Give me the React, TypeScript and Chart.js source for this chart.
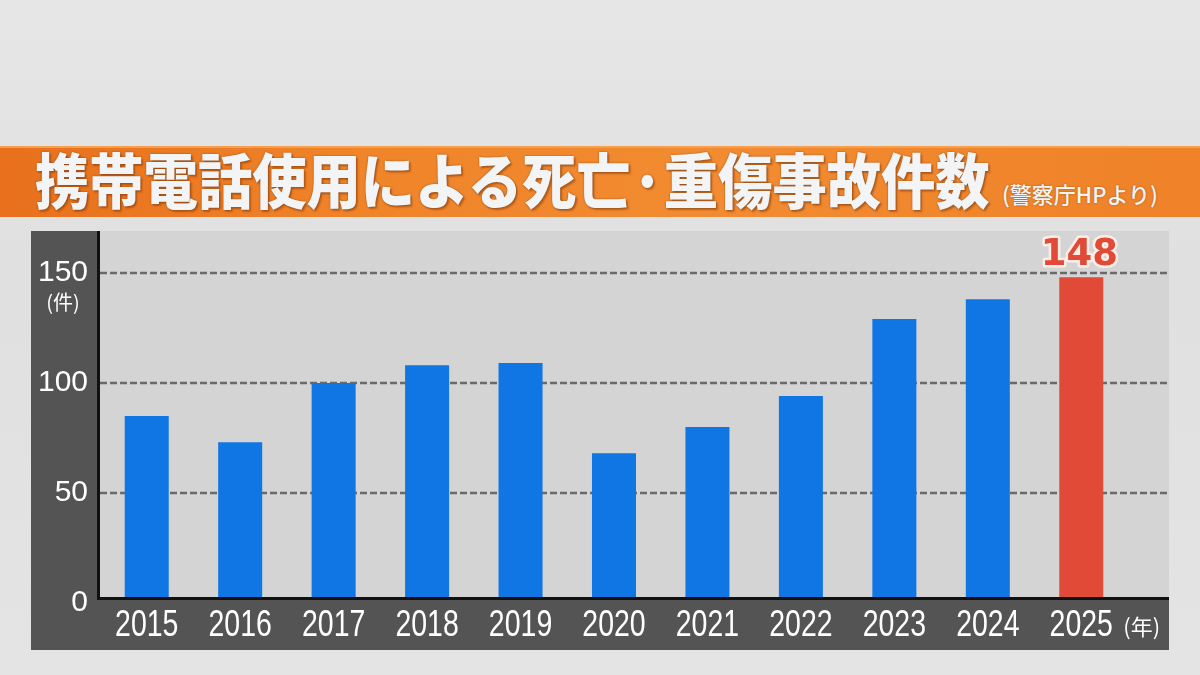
import React, { useEffect, useRef } from "react";
import { Chart, registerables } from "chart.js";

Chart.register(...registerables);

// ---- data ----
const years = ["2015", "2016", "2017", "2018", "2019", "2020", "2021", "2022", "2023", "2024", "2025"];
const counts = [85, 73, 100, 108, 109, 68, 80, 94, 129, 138, 148];
const yTickValues = [0, 50, 100, 150];
const highlightYear = "2025";

const TITLE = "携帯電話使用による死亡·重傷事故件数";
const SOURCE = "(警察庁HPより)";
const Y_UNIT = "(件)";
const X_UNIT = "(年)";

const BLUE = "#1076e4";
const RED = "#e04a36";
const PLOT_BG = "#d4d4d4";
const FRAME_BG = "#545454";

const framePlugin = {
  id: "frame",
  beforeDraw(chart: any) {
    const { ctx, width, chartArea } = chart;
    const height = chart.height;
    ctx.save();
    ctx.fillStyle = FRAME_BG;
    ctx.fillRect(0, 0, width, height);
    ctx.fillStyle = PLOT_BG;
    ctx.fillRect(chartArea.left, 0, width - chartArea.left, chartArea.bottom);
    ctx.restore();
  },
  beforeDatasetsDraw(chart: any) {
    const { ctx, width, chartArea } = chart;
    const ys = chart.scales.y;
    ctx.save();
    ctx.strokeStyle = "#6a6a6a";
    ctx.lineWidth = 2.5;
    ctx.setLineDash([7, 3]);
    yTickValues
      .filter((v) => v > 0)
      .forEach((v) => {
        const py = Math.round(ys.getPixelForValue(v));
        ctx.beginPath();
        ctx.moveTo(chartArea.left, py);
        ctx.lineTo(width, py);
        ctx.stroke();
      });
    ctx.restore();
  },
  afterDatasetsDraw(chart: any) {
    const { ctx, width, chartArea } = chart;
    const height = chart.height;
    const ys = chart.scales.y;
    const xs = chart.scales.x;
    const axisY = chartArea.bottom - 6;
    ctx.save();
    // bottom band covers the foot of the bars, then the axes
    ctx.fillStyle = FRAME_BG;
    ctx.fillRect(chartArea.left, axisY + 3, width - chartArea.left, height - axisY);
    ctx.fillStyle = "#111111";
    ctx.fillRect(chartArea.left - 3, 0, 3, axisY + 3);
    ctx.fillRect(chartArea.left - 3, axisY, width - chartArea.left + 3, 3);

    // x labels (condensed)
    ctx.fillStyle = "#ffffff";
    ctx.textAlign = "center";
    ctx.textBaseline = "middle";
    ctx.font = "37px 'Liberation Sans', Arial, sans-serif";
    years.forEach((label, i) => {
      const px = xs.getPixelForValue(i);
      ctx.save();
      ctx.translate(px, chartArea.bottom + 23);
      ctx.scale(0.77, 1);
      ctx.fillText(label, 0, 0);
      ctx.restore();
    });

    // value label for highlighted bar
    const idx = years.indexOf(highlightYear);
    const bar: any = chart.getDatasetMeta(0).data[idx];
    if (bar) {
      ctx.font = "bold 37px 'DejaVu Sans', 'Liberation Sans', sans-serif";
      ctx.textAlign = "center";
      ctx.textBaseline = "alphabetic";
      ctx.lineJoin = "round";
      ctx.lineWidth = 5;
      ctx.strokeStyle = "rgba(255,238,232,0.95)";
      ctx.strokeText(String(counts[idx]), bar.x - 2, bar.y - 12);
      ctx.fillStyle = RED;
      ctx.fillText(String(counts[idx]), bar.x - 2, bar.y - 12);
    }

    // unit labels
    ctx.fillStyle = "#ffffff";
    ctx.textBaseline = "middle";
    ctx.textAlign = "center";
    ctx.font = "20px 'Noto Sans CJK JP', sans-serif";
    ctx.fillText(Y_UNIT, chartArea.left - 37, ys.getPixelForValue(150) + 30);
    ctx.textAlign = "left";
    ctx.font = "22px 'Noto Sans CJK JP', sans-serif";
    ctx.fillText(X_UNIT, xs.getPixelForValue(years.length - 1) + 42, chartArea.bottom + 24);
    ctx.restore();
  },
};

function BarChart() {
  const ref = useRef<HTMLCanvasElement | null>(null);
  useEffect(() => {
    if (!ref.current) return;
    const chart = new Chart(ref.current, {
      type: "bar",
      data: {
        labels: years,
        datasets: [
          {
            data: counts,
            backgroundColor: years.map((y) => (y === highlightYear ? RED : BLUE)),
            borderWidth: 0,
            categoryPercentage: 1,
            barPercentage: 0.471,
          },
        ],
      },
      options: {
        animation: false,
        responsive: true,
        maintainAspectRatio: false,
        layout: { padding: { left: 0, right: 41, top: 0, bottom: 0 } },
        plugins: {
          legend: { display: false },
          tooltip: { enabled: false },
          title: { display: false },
        },
        scales: {
          x: {
            grid: { display: false },
            border: { display: false },
            ticks: { display: false },
            afterFit(scale: any) {
              scale.height = 47;
              scale.paddingLeft = 0;
              scale.paddingRight = 0;
            },
          },
          y: {
            min: 0,
            max: 169,
            grid: { display: false },
            border: { display: false },
            ticks: {
              stepSize: 50,
              includeBounds: false,
              color: "#ffffff",
              padding: 4,
              font: { family: "'Liberation Sans', Arial, sans-serif", size: 30 },
            },
            afterBuildTicks(scale: any) {
              scale.ticks = yTickValues.map((v) => ({ value: v }));
            },
            afterFit(scale: any) {
              scale.width = 69;
              scale.paddingTop = 0;
              scale.paddingBottom = 0;
            },
          },
        },
      },
      plugins: [framePlugin],
    } as any);
    return () => chart.destroy();
  }, []);
  return <canvas ref={ref} />;
}

export default function App() {
  return (
    <div
      style={{
        position: "fixed",
        left: 0,
        top: 0,
        width: 1200,
        height: 675,
        overflow: "hidden",
        background: "linear-gradient(180deg, #e6e6e6 0%, #e0e0e0 40%, #e4e4e4 100%)",
      }}
    >
      <div
        style={{
          position: "absolute",
          left: 0,
          top: 146,
          width: 1200,
          height: 71,
          background: "linear-gradient(90deg, #e8701c 0%, #f08429 30%, #f28b31 60%, #ef8228 100%)",
          borderTop: "2px solid #f5a04e",
          boxSizing: "border-box",
        }}
      />
      <div
        style={{
          position: "absolute",
          left: 35,
          top: 148,
          fontFamily: "'Noto Sans CJK JP', sans-serif",
          fontWeight: 900,
          fontSize: 60,
          lineHeight: "60px",
          color: "#f3f4f6",
          whiteSpace: "nowrap",
          transform: "scaleX(0.905)",
          transformOrigin: "left center",
          textShadow: "0 0 2px rgba(90,40,10,0.6), 2px 2px 2px rgba(120,50,10,0.45)",
        }}
      >
        {TITLE}
      </div>
      <div
        style={{
          position: "absolute",
          left: 1002,
          top: 182,
          fontFamily: "'Noto Sans CJK JP', sans-serif",
          fontWeight: 500,
          fontSize: 22,
          lineHeight: "22px",
          color: "#f3f4f6",
          whiteSpace: "nowrap",
          textShadow: "0 0 2px rgba(90,40,10,0.5)",
        }}
      >
        {SOURCE}
      </div>
      <div style={{ position: "absolute", left: 31, top: 231, width: 1138, height: 419 }}>
        <BarChart />
      </div>
    </div>
  );
}
